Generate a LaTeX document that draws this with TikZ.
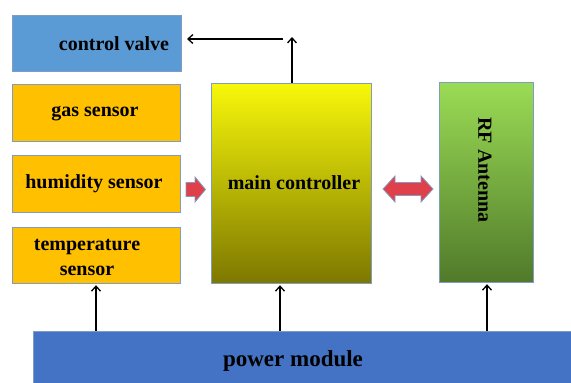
\documentclass[tikz,border=0pt]{standalone}
\usepackage{fontspec}
\setmainfont{Liberation Serif}
\usetikzlibrary{arrows.meta}
\definecolor{cvblue}{HTML}{5B9BD5}
\definecolor{sensor}{HTML}{FFC000}
\definecolor{pmblue}{HTML}{4472C4}
\definecolor{edge}{HTML}{7F9CC4}
\definecolor{blockred}{HTML}{E0404A}
\tikzset{
  box/.style={draw=edge, line width=0.9pt},
  lbl/.style={font=\bfseries\fontsize{20}{24}\selectfont, text=black, inner sep=0pt, align=center},
  conn/.style={line width=1.3pt, -{Straight Barb[length=5pt,width=9pt,line width=1.3pt]}},
  blockarrow/.style={fill=blockred, draw=edge, line width=0.8pt, line join=miter}
}
\begin{document}
\begin{tikzpicture}[x=1pt,y=-1pt]
\useasboundingbox (0,0) rectangle (571,383);
% boxes
\path[box, fill=cvblue] (12,15) rectangle (181,71);
\path[box, fill=sensor] (12,84) rectangle (180,141);
\path[box, fill=sensor] (12,155) rectangle (180,212);
\path[box, fill=sensor] (12,227) rectangle (180,283);
\path[box, top color={rgb,255:red,248;green,248;blue,10}, bottom color={rgb,255:red,125;green,120;blue,0}] (211,83) rectangle (371,283);
\path[box, top color={rgb,255:red,155;green,220;blue,85}, bottom color={rgb,255:red,80;green,122;blue,42}] (439,82) rectangle (533,282);
\path[box, fill=pmblue] (33,331) rectangle (572,384);
% named anchor nodes
\node[inner sep=0pt, minimum width=169, minimum height=56] (cv) at (96.5,43) {};
\node[inner sep=0pt, minimum width=168, minimum height=56] (temp) at (96,255) {};
\node[inner sep=0pt, minimum width=160, minimum height=200] (mc) at (291,183) {};
\node[inner sep=0pt, minimum width=94, minimum height=200] (rf) at (486,182) {};
\node[inner sep=0pt, minimum width=539, minimum height=52] (pm) at (302.5,357) {};
% labels
\node[lbl] (cvl) at (114,44) {control valve};
\node[lbl] (gsl) at (95,114) {gas sensor};
\node[lbl] (hsl) at (94,184) {humidity sensor};
\node[lbl, font=\bfseries\fontsize{20}{25}\selectfont] (tsl) at (87,257) {temperature\\sensor};
\node[lbl] (mcl) at (294,183) {main controller};
\node[lbl, rotate=-90] (rfl) at (485,170) {RF Antenna};
\node[lbl, font=\bfseries\fontsize{23}{27}\selectfont] (pml) at (293,361) {power module};
% connectors
\coordinate (up) at (292,37);
\coordinate (hstart) at (283,39);
\coordinate (hend) at (187,39);
\draw[conn] (mc.north -| up) -- (up);
\draw[conn] (hstart) -- (hend);
\draw[conn] (pm.north -| temp.south) -- ([yshift=-2pt]temp.south);
\draw[conn] (pm.north -| 280,0) -- ([yshift=-2pt]mc.south -| 280,0);
\draw[conn] (pm.north -| rf.south) ++(1,0) -- ([xshift=1pt,yshift=-2pt]rf.south);
% block arrows
\path[blockarrow] (186,182.5) -- (195,182.5) -- (195,177) -- (205.5,189.5) -- (195,202) -- (195,196.5) -- (186,196.5) -- cycle;
\path[blockarrow] (383,189) -- (395,176) -- (395,182.5) -- (421,182.5) -- (421,176) -- (433,189) -- (421,202) -- (421,195.5) -- (395,195.5) -- (395,202) -- cycle;
\end{tikzpicture}
\end{document}
